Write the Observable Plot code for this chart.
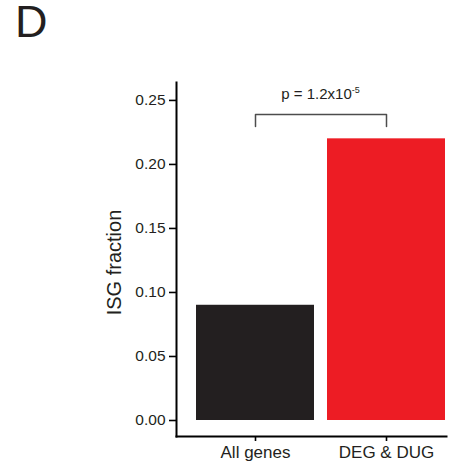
<!DOCTYPE html>
<html>
<head>
<meta charset="utf-8">
<script src="https://cdn.jsdelivr.net/npm/d3@7"></script>
<script src="https://cdn.jsdelivr.net/npm/@observablehq/plot@0.6"></script>
<style>
  body { margin: 0; background: #fff; }
  #wrap { position: relative; width: 455px; height: 467px; }
  #panel { position: absolute; left: 15px; top: 2px; font: 45px/40px "Liberation Sans", Arial, Helvetica, sans-serif; color: #231f20; }
</style>
</head>
<body>
<div id="wrap"><div id="panel">D</div></div>
<script>
const categories = ["All genes", "DEG & DUG"];
const isgFraction = [0.09, 0.22];
const yTicks = [0, 0.05, 0.10, 0.15, 0.20, 0.25];
const yDomain = [-0.0125, 0.264];
const bracketLow = 0.2296;
const bracketHigh = 0.239;
const pLabelY = 0.2505;
const pMain = "p = 1.2x10";
const pExp = "-5";
const yLabel = "ISG fraction";

const data = categories.map((c, i) => ({category: c, value: isgFraction[i]}));
const bracket = [
  {category: categories[0], y: bracketLow},
  {category: categories[0], y: bracketHigh},
  {category: categories[1], y: bracketHigh},
  {category: categories[1], y: bracketLow}
];
const font = '"Liberation Sans", Arial, Helvetica, sans-serif';

const chart = Plot.plot({
  width: 455,
  height: 467,
  marginLeft: 176,
  marginRight: 9,
  marginTop: 82,
  marginBottom: 31,
  style: {fontFamily: font, background: "transparent", color: "#231f20"},
  x: {domain: categories, range: [189.5, 451.5], paddingInner: 0.1, paddingOuter: 0.05},
  y: {domain: yDomain},
  color: {domain: categories, range: ["#231f20", "#ed1c24"]},
  marks: [
    Plot.barY(data, {x: "category", y: "value", fill: "category"}),
    Plot.line(bracket, {x: "category", y: "y", stroke: "#4d4d4d", strokeWidth: 1.5}),
    Plot.text([pMain], {
      y: () => pLabelY, text: d => d, className: "plabel",
      frameAnchor: "middle", fontSize: 15, fill: "#231f20", lineAnchor: "bottom"
    }),
    Plot.text([yLabel], {
      text: d => d, frameAnchor: "left", textAnchor: "middle", rotate: -90, dx: -62, dy: 3,
      fontSize: 20, fill: "#231f20"
    }),
    Plot.frame({anchor: "left", stroke: "#000", strokeWidth: 2}),
    Plot.frame({anchor: "bottom", stroke: "#000", strokeWidth: 2}),
    Plot.axisY({ticks: yTicks, tickFormat: d3.format(".2f"), tickSize: 7, tickPadding: 4, fontSize: 15.5,
      strokeWidth: 1.6, stroke: "#000", label: null}),
    Plot.axisX({tickSize: 5, tickPadding: 4, fontSize: 17, strokeWidth: 1.6, stroke: "#000", label: null})
  ]
});

// superscript exponent in the p-value label, centred over the bracket
const t = chart.querySelector(".plabel text");
if (t) {
  const txt = t.textContent;
  t.textContent = "";
  const ns = "http://www.w3.org/2000/svg";
  const a = document.createElementNS(ns, "tspan"); a.textContent = txt;
  const b = document.createElementNS(ns, "tspan"); b.textContent = pExp;
  b.setAttribute("font-size", "9"); b.setAttribute("dy", "-6");
  t.appendChild(a); t.appendChild(b);
  const xs = chart.scale("x"), ys = chart.scale("y");
  const cx = (xs.apply(categories[0]) + xs.apply(categories[1]) + xs.bandwidth) / 2;
  t.removeAttribute("x"); t.removeAttribute("y");
  t.setAttribute("transform", `translate(${cx},${ys.apply(pLabelY)})`);
  t.setAttribute("text-anchor", "middle");
  const g = t.parentNode;
  if (g && g.getAttribute("transform")) g.removeAttribute("transform");
}
document.getElementById("wrap").appendChild(chart);
</script>
</body>
</html>
